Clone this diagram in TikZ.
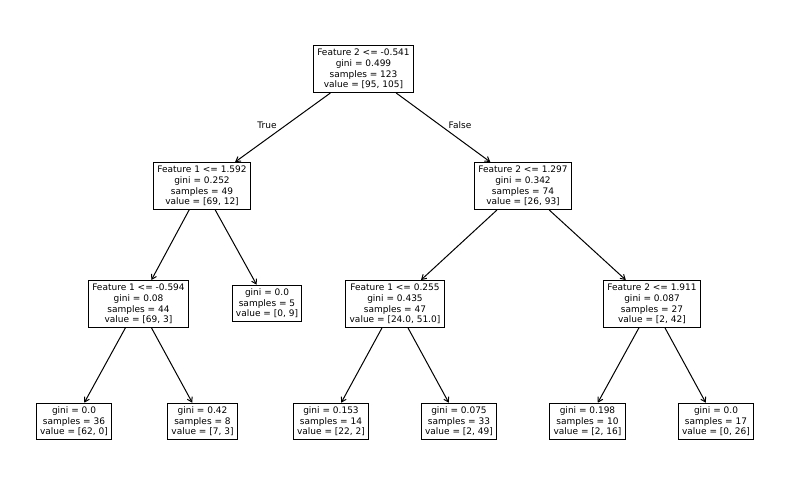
\documentclass[tikz,border=0pt]{standalone}
\usepackage{fontspec}
\setmainfont{DejaVu Sans}
\usetikzlibrary{arrows.meta}
\begin{document}
\begin{tikzpicture}[x=1pt,y=-1pt,
  box/.style={draw,line width=1.1pt,align=center,inner xsep=3.8pt,inner ysep=3.6pt,
    font=\fontsize{9}{10.6}\selectfont},
  edge/.style={-{Straight Barb[length=4.5pt,width=5.5pt]},line width=1pt},
  lbl/.style={font=\fontsize{9}{10.6}\selectfont}]
\useasboundingbox (0,0) rectangle (790,490);
\node[box] (0) at (363.5,69) {Feature 2 <= -0.541\\gini = 0.499\\samples = 123\\value = [95, 105]};
\node[box] (1) at (202,186) {Feature 1 <= 1.592\\gini = 0.252\\samples = 49\\value = [69, 12]};
\node[box] (2) at (138.5,304) {Feature 1 <= -0.594\\gini = 0.08\\samples = 44\\value = [69, 3]};
\node[box] (3) at (74,421.5) {gini = 0.0\\samples = 36\\value = [62, 0]};
\node[box] (4) at (202.5,421.5) {gini = 0.42\\samples = 8\\value = [7, 3]};
\node[box] (5) at (267,303.5) {gini = 0.0\\samples = 5\\value = [0, 9]};
\node[box] (6) at (523,186) {Feature 2 <= 1.297\\gini = 0.342\\samples = 74\\value = [26, 93]};
\node[box] (7) at (395,304) {Feature 1 <= 0.255\\gini = 0.435\\samples = 47\\value = [24.0, 51.0]};
\node[box] (8) at (331,421.5) {gini = 0.153\\samples = 14\\value = [22, 2]};
\node[box] (9) at (459,421.5) {gini = 0.075\\samples = 33\\value = [2, 49]};
\node[box] (10) at (652,304) {Feature 2 <= 1.911\\gini = 0.087\\samples = 27\\value = [2, 42]};
\node[box] (11) at (587.5,421.5) {gini = 0.198\\samples = 10\\value = [2, 16]};
\node[box] (12) at (716,421.5) {gini = 0.0\\samples = 17\\value = [0, 26]};
\draw[edge] (0) -- (1);
\draw[edge] (0) -- (6);
\draw[edge] (1) -- (2);
\draw[edge] (1) -- (5);
\draw[edge] (2) -- (3);
\draw[edge] (2) -- (4);
\draw[edge] (6) -- (7);
\draw[edge] (6) -- (10);
\draw[edge] (7) -- (8);
\draw[edge] (7) -- (9);
\draw[edge] (10) -- (11);
\draw[edge] (10) -- (12);
\node[lbl] (true) at (267,125) {True};
\node[lbl] (false) at (460,125) {False};
\end{tikzpicture}
\end{document}
